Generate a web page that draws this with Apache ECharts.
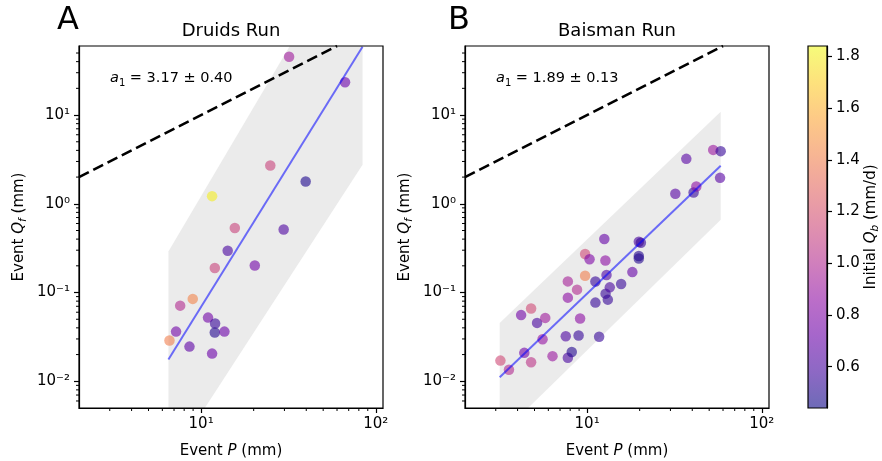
<!DOCTYPE html>
<html><head><meta charset="utf-8">
<script src="https://cdn.jsdelivr.net/npm/echarts@6/dist/echarts.min.js"></script>
<style>html,body{margin:0;padding:0;background:#fff}#c{width:882px;height:461px}</style>
</head><body><div id="c"></div>
<script>
// ---- Panel A: Druids Run (event P mm, event Qf mm, initial Qb mm/d)
const druidsP  = [31.9, 66.7, 24.9, 39.7, 11.56, 15.6, 29.7, 14.2, 11.98, 20.3, 8.96, 7.59, 10.96, 12.03, 7.19, 11.98, 13.6, 6.59, 8.58, 11.56];
const druidsQf = [45.4, 23.4, 2.70, 1.78, 1.22, 0.533, 0.514, 0.296, 0.189, 0.202, 0.0848, 0.0712, 0.0522, 0.0447, 0.0363, 0.0354, 0.0363, 0.0288, 0.0246, 0.0205];
const druidsQb = [0.92, 0.72, 1.12, 0.48, 1.8, 1.12, 0.62, 0.6, 1.12, 0.75, 1.42, 1.0, 0.75, 0.55, 0.75, 0.5, 0.72, 1.4, 0.68, 0.72];
const druidsBand = [[6.5, 0.005], [6.5, 0.29], [32.2, 60], [84, 60], [84, 2.75], [10.5, 0.005]];
const druidsFit = [[6.5, 0.0176], [84, 58.8]];
const druidsSlope = '3.17 ± 0.40';

// ---- Panel B: Baisman Run
const baismanP  = [3.19, 3.57, 4.37, 4.78, 4.19, 4.78, 5.17, 5.76, 5.56, 6.34, 7.55, 7.76, 8.17, 8.94, 9.12, 7.76, 7.76, 8.76, 9.74, 10.33, 9.74, 11.16, 11.16, 11.72, 12.55, 12.73, 12.92, 12.76, 13.14, 13.49, 15.66, 18.16, 19.77, 20.32, 19.77, 19.77, 32.0, 36.98, 40.7, 42.2, 52.7, 58.2, 57.7];
const baismanQf = [0.0171, 0.0135, 0.0209, 0.0164, 0.0557, 0.0662, 0.0455, 0.0518, 0.0298, 0.0192, 0.0321, 0.0184, 0.0214, 0.0328, 0.0511, 0.0876, 0.1336, 0.1078, 0.272, 0.237, 0.1545, 0.133, 0.0770, 0.0317, 0.402, 0.230, 0.158, 0.0972, 0.0832, 0.1144, 0.125, 0.170, 0.374, 0.364, 0.258, 0.242, 1.296, 3.21, 1.34, 1.566, 4.05, 3.92, 1.96];
const baismanQb = [1.15, 1.0, 0.75, 1.05, 0.75, 1.15, 0.6, 0.92, 0.88, 0.9, 0.62, 0.6, 0.5, 0.55, 0.85, 0.85, 0.95, 1.0, 1.15, 0.8, 1.4, 0.55, 0.55, 0.55, 0.7, 0.85, 0.62, 0.55, 0.55, 0.6, 0.55, 0.7, 0.6, 0.55, 0.5, 0.5, 0.65, 0.65, 0.55, 0.85, 0.9, 0.55, 0.65];
const baismanBand = [[3.16, 0.005], [3.16, 0.0455], [58.2, 10.9], [58.2, 0.66], [4.59, 0.005]];
const baismanFit = [[3.16, 0.0111], [58.2, 2.69]];
const baismanSlope = '1.89 ± 0.13';

// ---- shared
const oneToOne = [[2, 2], [60, 60]];
const xRange = [2, 110];
const yRange = [0.005, 60];
const xMajor = [10, 100];
const xMinor = [3, 4, 5, 6, 7, 8, 9, 20, 30, 40, 50, 60, 70, 80, 90];
const yMajor = [0.01, 0.1, 1, 10];
const yMinor = [0.006, 0.007, 0.008, 0.009, 0.02, 0.03, 0.04, 0.05, 0.06, 0.07, 0.08, 0.09,
                0.2, 0.3, 0.4, 0.5, 0.6, 0.7, 0.8, 0.9, 2, 3, 4, 5, 6, 7, 8, 9, 20, 30, 40, 50];
const cbRange = [0.44, 1.84];
const cbTicks = [0.6, 0.8, 1.0, 1.2, 1.4, 1.6, 1.8];
const plasma = ['#0d0887', '#41049d', '#6a00a8', '#8f0da4', '#b12a90', '#cc4778', '#e16462', '#f2844b', '#fca636', '#fcce25', '#f0f921'];

const FONT = 'DejaVu Sans';
const SUP = {'-': '⁻', '0': '⁰', '1': '¹', '2': '²', '3': '³'};
const supFmt = v => '10' + String(Math.round(Math.log10(v))).split('').map(c => SUP[c]).join('');
const zip = (a, b, c) => a.map((v, i) => [v, b[i], c[i]]);

const nameRich = {
  n: {fontFamily: FONT, fontSize: 15, color: '#000', lineHeight: 20},
  i: {fontFamily: FONT, fontSize: 15, fontStyle: 'italic', color: '#000', lineHeight: 20},
  s: {fontFamily: FONT, fontSize: 10.5, fontStyle: 'italic', color: '#000', lineHeight: 10, verticalAlign: 'bottom'}
};
const annRich = {
  n: {fontFamily: FONT, fontSize: 14.5, color: '#000', lineHeight: 20},
  i: {fontFamily: FONT, fontSize: 14.5, fontStyle: 'italic', color: '#000', lineHeight: 20},
  s: {fontFamily: FONT, fontSize: 10, color: '#000', lineHeight: 10, verticalAlign: 'bottom'}
};

function mainX(g) {
  return {type: 'log', gridIndex: g, min: xRange[0], max: xRange[1], position: 'bottom', z: 10,
    axisLine: {show: true, onZero: false, lineStyle: {color: '#000', width: 1.2}},
    axisTick: {show: true, length: 5, lineStyle: {color: '#000', width: 1.2}, customValues: xMajor},
    axisLabel: {customValues: xMajor, formatter: supFmt, color: '#000', fontSize: 15, fontFamily: FONT, margin: 9},
    splitLine: {show: false}, minorTick: {show: false},
    name: '{n|Event }{i|P}{n| (mm)}', nameLocation: 'middle', nameGap: 33,
    nameTextStyle: {rich: nameRich}};
}
function mainY(g) {
  return {type: 'log', gridIndex: g, min: yRange[0], max: yRange[1], position: 'left', z: 10,
    axisLine: {show: true, onZero: false, lineStyle: {color: '#000', width: 1.2}},
    axisTick: {show: true, length: 5, lineStyle: {color: '#000', width: 1.2}, customValues: yMajor},
    axisLabel: {customValues: yMajor, formatter: supFmt, color: '#000', fontSize: 15, fontFamily: FONT, margin: 9},
    splitLine: {show: false}, minorTick: {show: false},
    name: '{n|Event }{i|Q}{s|f}{n| (mm)}', nameLocation: 'middle', nameGap: 50,
    nameTextStyle: {rich: nameRich}};
}
// minor (2..9 x decade) ticks, placed through the log axes
function minorTicks(ax) {
  return {type: 'custom', xAxisIndex: ax, yAxisIndex: ax, silent: true, z: 10, clip: false,
    data: [[xRange[0], yRange[0]]],
    renderItem: (params, api) => {
      const children = [];
      xMinor.forEach(v => {
        const p = api.coord([v, yRange[0]]);
        children.push({type: 'line', shape: {x1: p[0], y1: p[1], x2: p[0], y2: p[1] + 3}, style: {stroke: '#000', lineWidth: 1}});
      });
      yMinor.forEach(v => {
        const p = api.coord([xRange[0], v]);
        children.push({type: 'line', shape: {x1: p[0] - 3, y1: p[1], x2: p[0], y2: p[1]}, style: {stroke: '#000', lineWidth: 1}});
      });
      return {type: 'group', children: children};
    }};
}
function band(ax, poly) {
  return {type: 'custom', xAxisIndex: ax, yAxisIndex: ax, silent: true, z: 1,
    data: [poly[0]],
    renderItem: (params, api) => ({type: 'polygon',
      shape: {points: poly.map(p => api.coord(p))}, style: {fill: '#ebebeb'}})};
}
function refLine(ax, pts) {
  return {type: 'line', xAxisIndex: ax, yAxisIndex: ax, data: pts, symbol: 'none', z: 2, silent: true,
    lineStyle: {color: '#000', width: 2.6, type: [11, 5]}};
}
function fitLine(ax, pts) {
  return {type: 'line', xAxisIndex: ax, yAxisIndex: ax, data: pts, symbol: 'none', z: 4, silent: true,
    lineStyle: {color: 'rgba(0,0,255,0.55)', width: 2}};
}
function scatter(ax, data) {
  return {type: 'scatter', xAxisIndex: ax, yAxisIndex: ax, data: data, symbolSize: 10.5, z: 3,
    itemStyle: {opacity: 0.6}};
}

const gridBox = {show: true, borderColor: '#000', borderWidth: 1.2, z: 10, backgroundColor: 'transparent', outerBoundsMode: 'none'};
const option = {
  animation: false,
  backgroundColor: '#fff',
  grid: [
    Object.assign({left: 79, top: 46, width: 304, height: 362}, gridBox),
    Object.assign({left: 465, top: 46, width: 304, height: 362}, gridBox),
    Object.assign({left: 808, top: 46, width: 19, height: 362}, gridBox)
  ],
  xAxis: [mainX(0), mainX(1),
    {type: 'value', gridIndex: 2, min: 0, max: 1, show: false}],
  yAxis: [mainY(0), mainY(1),
    {type: 'value', gridIndex: 2, min: cbRange[0], max: cbRange[1], position: 'right', z: 10,
     axisLine: {show: true, onZero: false, lineStyle: {color: '#000', width: 1.2}},
     axisTick: {show: true, length: 5, lineStyle: {color: '#000', width: 1.2}, customValues: cbTicks},
     axisLabel: {customValues: cbTicks, formatter: v => v.toFixed(1), color: '#000', fontSize: 15, fontFamily: FONT, margin: 9},
     splitLine: {show: false},
     name: '{n|Initial }{i|Q}{s|b}{n| (mm/d)}', nameLocation: 'middle', nameGap: 34,
     nameTextStyle: {rich: nameRich}}],
  visualMap: [{type: 'continuous', show: false, min: cbRange[0], max: cbRange[1], dimension: 2,
    seriesIndex: [4, 5], inRange: {color: plasma}}],
  series: [
    band(0, druidsBand),
    band(1, baismanBand),
    refLine(0, oneToOne),
    refLine(1, oneToOne),
    scatter(0, zip(druidsP, druidsQf, druidsQb)),
    scatter(1, zip(baismanP, baismanQf, baismanQb)),
    fitLine(0, druidsFit),
    fitLine(1, baismanFit),
    {type: 'custom', xAxisIndex: 2, yAxisIndex: 2, silent: true, z: 2,
     data: [[0, cbRange[0]]],
     renderItem: (params, api) => {
       const p1 = api.coord([0, cbRange[1]]);
       const p2 = api.coord([1, cbRange[0]]);
       return {type: 'rect', shape: {x: p1[0], y: p1[1], width: p2[0] - p1[0], height: p2[1] - p1[1]},
         style: {opacity: 0.6, fill: new echarts.graphic.LinearGradient(0, 1, 0, 0,
           plasma.map((c, i) => ({offset: i / (plasma.length - 1), color: c})))}};
     }},
    minorTicks(0),
    minorTicks(1)
  ],
  graphic: [
    {type: 'text', x: 68, y: 21, style: {text: 'A', font: '32px "DejaVu Sans"', fill: '#000', textAlign: 'center', textVerticalAlign: 'middle'}},
    {type: 'text', x: 459, y: 21, style: {text: 'B', font: '32px "DejaVu Sans"', fill: '#000', textAlign: 'center', textVerticalAlign: 'middle'}},
    {type: 'text', x: 231, y: 31, style: {text: 'Druids Run', font: '18px "DejaVu Sans"', fill: '#000', textAlign: 'center', textVerticalAlign: 'middle'}},
    {type: 'text', x: 617, y: 31, style: {text: 'Baisman Run', font: '18px "DejaVu Sans"', fill: '#000', textAlign: 'center', textVerticalAlign: 'middle'}},
    {type: 'text', x: 110, y: 78, style: {text: '{i|a}{s|1}{n| = ' + druidsSlope + '}', rich: annRich, textAlign: 'left', textVerticalAlign: 'middle'}},
    {type: 'text', x: 496, y: 78, style: {text: '{i|a}{s|1}{n| = ' + baismanSlope + '}', rich: annRich, textAlign: 'left', textVerticalAlign: 'middle'}}
  ]
};
const chart = echarts.init(document.getElementById('c'), null, {renderer: 'canvas'});
chart.setOption(option);
</script></body></html>
